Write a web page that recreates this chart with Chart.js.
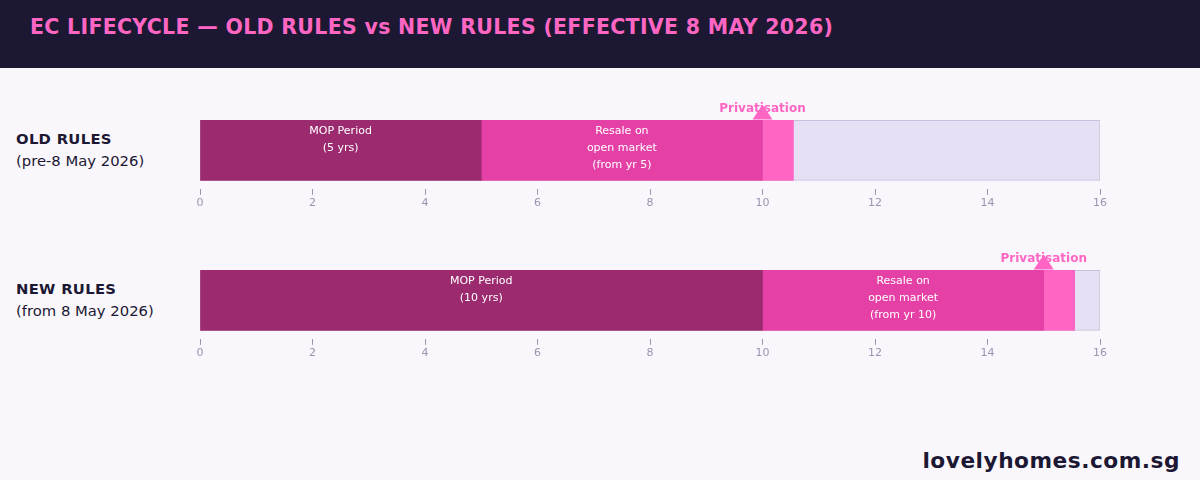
<!DOCTYPE html>
<html>
<head>
<meta charset="utf-8">
<script src="https://cdn.jsdelivr.net/npm/chart.js@4/dist/chart.umd.min.js"></script>
<style>
  body { margin: 0; width: 1200px; height: 480px; background: #faf7fc; font-family: "DejaVu Sans", sans-serif; position: relative; overflow: hidden; }
  .header { position: absolute; left: 0; top: 0; width: 1200px; height: 68px; background: #1c1833; }
  .header h1 { margin: 0; position: absolute; left: 30px; top: 15px; font-size: 20.5px; color: #ff66c4; font-weight: bold; letter-spacing: 0.3px; }
  .rowlabel { position: absolute; left: 16px; color: #1c1833; font-size: 14.8px; line-height: 22px; }
  .rowlabel b { letter-spacing: 0.3px; }
  .wrap { position: absolute; left: 0; width: 1200px; height: 130px; }
  .footer { position: absolute; right: 20px; top: 448px; font-size: 21.7px; font-weight: bold; color: #1c1833; letter-spacing: 0.5px; }
</style>
</head>
<body>
<div class="header"><h1>EC LIFECYCLE — OLD RULES vs NEW RULES (EFFECTIVE 8 MAY 2026)</h1></div>
<div class="rowlabel" style="top:128px"><b>OLD RULES</b><br>(pre-8 May 2026)</div>
<div class="rowlabel" style="top:278px"><b>NEW RULES</b><br>(from 8 May 2026)</div>
<div class="wrap" style="top:82px"><canvas id="oldChart"></canvas></div>
<div class="wrap" style="top:232px"><canvas id="newChart"></canvas></div>
<div class="footer">lovelyhomes.com.sg</div>
<script>
const axisMax = 16;
const oldMop = [0, 5];
const oldResale = [5, 10];
const oldPriv = [10, 10.55];
const newMop = [0, 10];
const newResale = [10, 15];
const newPriv = [15, 15.55];
const oldLabels = [['MOP Period', '(5 yrs)'], ['Resale on', 'open market', '(from yr 5)']];
const newLabels = [['MOP Period', '(10 yrs)'], ['Resale on', 'open market', '(from yr 10)']];

const segmentText = {
    id: 'segmentText',
    afterDatasetsDraw(chart, args, opts) {
        const ctx = chart.ctx;
        const x = chart.scales.x;
        const bar = chart.getDatasetMeta(0).data[0];
        const top = bar.y - bar.height / 2;
        ctx.save();
        ctx.fillStyle = '#ffffff';
        ctx.font = '11px "DejaVu Sans"';
        ctx.textAlign = 'center';
        ctx.textBaseline = 'top';
        opts.texts.forEach((lines, i) => {
            const seg = chart.data.datasets[i].data[0];
            const cx = (x.getPixelForValue(seg[0]) + x.getPixelForValue(seg[1])) / 2;
            lines.forEach((l, j) => ctx.fillText(l, cx, top + 5 + j * 17));
        });
        // privatisation marker
        const px = x.getPixelForValue(opts.priv);
        ctx.fillStyle = '#ff66c4';
        ctx.beginPath();
        ctx.moveTo(px, top - 16);
        ctx.lineTo(px + 10, top - 1);
        ctx.lineTo(px - 10, top - 1);
        ctx.closePath();
        ctx.fill();
        ctx.font = 'bold 12px "DejaVu Sans"';
        ctx.textBaseline = 'bottom';
        ctx.fillText('Privatisation', px, top - 6);
        ctx.restore();
    }
};

function initLifecycle(id, mop, resale, priv, texts) {
    const ctx = document.getElementById(id);
    new Chart(ctx, {
        type: 'bar',
        data: {
            labels: [''],
            datasets: [
                { data: [mop], backgroundColor: '#9b2a6f', grouped: false, order: 1, barThickness: 60 },
                { data: [resale], backgroundColor: '#e540a6', grouped: false, order: 1, barThickness: 60 },
                { data: [priv], backgroundColor: '#ff66c4', grouped: false, order: 1, barThickness: 60 },
                { data: [[0, axisMax]], backgroundColor: '#e6e0f5', borderColor: '#c8c0dc', borderWidth: 1, borderSkipped: false, grouped: false, order: 2, barThickness: 60 }
            ]
        },
        options: {
            indexAxis: 'y',
            responsive: true,
            maintainAspectRatio: false,
            animation: false,
            layout: { padding: { left: 200, right: 100, top: 30, bottom: 0 } },
            plugins: {
                legend: { display: false },
                tooltip: { enabled: false },
                segmentText: { texts, priv: priv[0] }
            },
            scales: {
                x: {
                    min: 0, max: axisMax,
                    border: { display: false },
                    grid: { drawOnChartArea: false, color: '#9a94b0', tickLength: 6 },
                    ticks: { stepSize: 2, color: '#9a94b0', font: { size: 11, family: 'DejaVu Sans' }, padding: 2 }
                },
                y: { display: false }
            }
        },
        plugins: [segmentText]
    });
}

initLifecycle('oldChart', oldMop, oldResale, oldPriv, oldLabels);
initLifecycle('newChart', newMop, newResale, newPriv, newLabels);
</script>
</body>
</html>
